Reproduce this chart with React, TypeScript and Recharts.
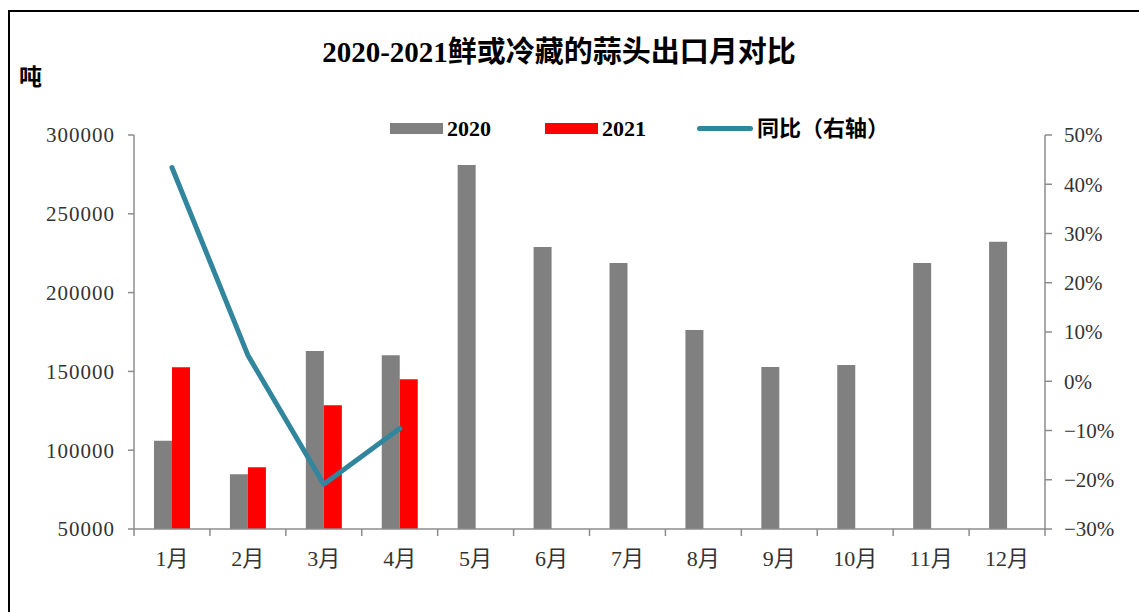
import React from "react"
import {
  ComposedChart,
  Bar,
  Line,
  XAxis,
  YAxis,
  Legend,
} from "recharts"

const months = ["1月", "2月", "3月", "4月", "5月", "6月", "7月", "8月", "9月", "10月", "11月", "12月"]
const exports2020 = [106000, 84700, 162900, 160200, 281000, 228900, 218800, 176300, 152800, 154100, 218800, 232300]
const exports2021 = [152600, 89200, 128500, 145000, null, null, null, null, null, null, null, null]
const yoy = [0.434, 0.053, -0.209, -0.096, null, null, null, null, null, null, null, null]
const leftTicks = [50000, 100000, 150000, 200000, 250000, 300000]
const rightTicks = [-0.3, -0.2, -0.1, 0, 0.1, 0.2, 0.3, 0.4, 0.5]

const chartData = months.map((month, i) => ({
  month,
  y2020: exports2020[i],
  y2021: exports2021[i],
  yoy: yoy[i],
}))

const CHART_W = 1139
const CHART_H = 612
const LEFT_W = 134
const RIGHT_W = 94
const X_AXIS_H = 83
const LEGEND_H = 25
const AXIS_Y = CHART_H - X_AXIS_H
const BAND = (CHART_W - LEFT_W - RIGHT_W) / months.length

const SERIF = '"Liberation Serif", "Noto Sans CJK SC", serif'
const GRAY = "#808080"
const RED = "#FF0000"
const TEAL = "#31859C"
const AXIS = "#8c8c8c"

function MonthTick(props: any) {
  const { x, index, payload } = props
  const left = x - BAND / 2
  const right = x + BAND / 2
  return (
    <g>
      <line x1={left} x2={left} y1={AXIS_Y} y2={AXIS_Y + 7} stroke={AXIS} strokeWidth={1.5} />
      {index === months.length - 1 && (
        <line x1={right} x2={right} y1={AXIS_Y} y2={AXIS_Y + 7} stroke={AXIS} strokeWidth={1.5} />
      )}
      <text x={x} y={AXIS_Y + 37} textAnchor="middle" fontSize={22} fill="#333" fontFamily={SERIF}>
        {payload.value}
      </text>
    </g>
  )
}

function LegendContent() {
  const items = [
    { label: "2020", kind: "bar", color: GRAY, width: 155 },
    { label: "2021", kind: "bar", color: RED, width: 152 },
    { label: "同比（右轴）", kind: "line", color: TEAL, width: 220 },
  ]
  return (
    <div style={{ display: "flex", alignItems: "center", height: LEGEND_H }}>
      {items.map((it) => (
        <div key={it.label} style={{ width: it.width, display: "flex", alignItems: "center" }}>
          {it.kind === "bar" ? (
            <div style={{ width: 53, height: 11, background: it.color }} />
          ) : (
            <div style={{ width: 56, height: 5, borderRadius: 3, background: it.color }} />
          )}
          <span
            style={{
              marginLeft: 4,
              fontSize: 22,
              fontWeight: "bold",
              fontFamily: SERIF,
              color: "#000",
              lineHeight: "24px",
            }}
          >
            {it.label}
          </span>
        </div>
      ))}
    </div>
  )
}

export default function App() {
  return (
    <div
      style={{
        position: "absolute",
        left: 0,
        top: 0,
        width: CHART_W,
        height: CHART_H,
        overflow: "hidden",
        background: "#fff",
        fontFamily: SERIF,
      }}
    >
      <div
        style={{
          position: "absolute",
          left: 8,
          top: 10,
          width: 1200,
          height: 700,
          borderTop: "2px solid #000",
          borderLeft: "2px solid #000",
        }}
      />
      <div
        style={{
          position: "absolute",
          left: 0,
          width: 1118,
          top: 34,
          textAlign: "center",
          fontSize: 29,
          fontWeight: "bold",
          color: "#000",
          lineHeight: "36px",
        }}
      >
        2020-2021鲜或冷藏的蒜头出口月对比
      </div>
      <div
        style={{
          position: "absolute",
          left: 19,
          top: 64,
          fontSize: 23,
          fontWeight: "bold",
          color: "#000",
          lineHeight: "28px",
        }}
      >
        吨
      </div>
      <ComposedChart
        width={CHART_W}
        height={CHART_H}
        data={chartData}
        margin={{ top: 135 - LEGEND_H, right: 0, bottom: 0, left: 0 }}
        barGap={0}
        barSize={18}
        style={{ position: "absolute", left: 0, top: 0 }}
      >
        <XAxis
          dataKey="month"
          height={X_AXIS_H}
          axisLine={{ stroke: AXIS, strokeWidth: 1.5 }}
          tickLine={false}
          tick={<MonthTick />}
          interval={0}
        />
        <YAxis
          yAxisId="left"
          width={LEFT_W}
          domain={[50000, 300000]}
          ticks={leftTicks}
          allowDataOverflow
          axisLine={{ stroke: AXIS, strokeWidth: 1.5 }}
          tickLine={{ stroke: AXIS, strokeWidth: 1.5 }}
          tickSize={6}
          tickMargin={13}
          tick={{ fontSize: 21, fill: "#333", fontFamily: SERIF, letterSpacing: 1 }}
        />
        <YAxis
          yAxisId="right"
          orientation="right"
          width={RIGHT_W}
          domain={[-0.3, 0.5]}
          ticks={rightTicks}
          axisLine={{ stroke: AXIS, strokeWidth: 1.5 }}
          tickLine={{ stroke: AXIS, strokeWidth: 1.5 }}
          tickSize={7}
          tickMargin={12}
          tick={{ fontSize: 21, fill: "#333", fontFamily: SERIF, textAnchor: "start" }}
          tickFormatter={(v: number) => {
            const p = Math.round(v * 100)
            return p < 0 ? `−${Math.abs(p)}%` : `${p}%`
          }}
        />
        <Legend
          verticalAlign="top"
          content={<LegendContent />}
          wrapperStyle={{ top: 116, left: 390, width: 560, height: LEGEND_H }}
        />
        <Bar yAxisId="left" dataKey="y2020" name="2020" fill={GRAY} isAnimationActive={false} />
        <Bar yAxisId="left" dataKey="y2021" name="2021" fill={RED} isAnimationActive={false} />
        <Line
          yAxisId="right"
          dataKey="yoy"
          name="同比（右轴）"
          stroke={TEAL}
          strokeWidth={5}
          strokeLinecap="round"
          strokeLinejoin="round"
          dot={false}
          activeDot={false}
          connectNulls={false}
          isAnimationActive={false}
        />
      </ComposedChart>
    </div>
  )
}
